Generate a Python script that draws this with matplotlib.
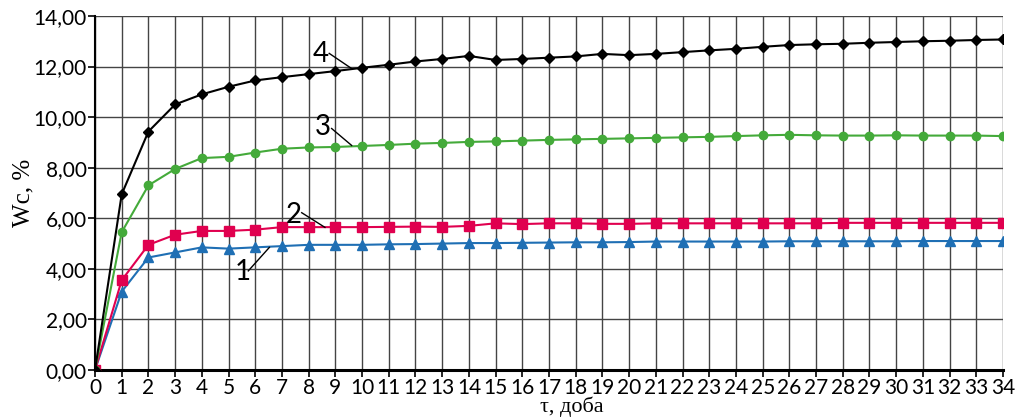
import numpy as np
import matplotlib.pyplot as plt
from matplotlib.ticker import FuncFormatter

# days
days = list(range(0, 35))

# curve 1 (blue, triangles)
wc1 = [0, 3.1, 4.45, 4.65, 4.85, 4.8, 4.85, 4.9, 4.95, 4.95, 4.95, 4.97, 4.98, 5.0, 5.02,
       5.02, 5.03, 5.04, 5.05, 5.05, 5.06, 5.08, 5.08, 5.08, 5.08, 5.08, 5.09, 5.09, 5.09,
       5.09, 5.09, 5.1, 5.1, 5.1, 5.1]
# curve 2 (red, squares)
wc2 = [0, 3.55, 4.95, 5.35, 5.5, 5.5, 5.55, 5.65, 5.65, 5.65, 5.65, 5.66, 5.67, 5.66, 5.7,
       5.8, 5.77, 5.8, 5.8, 5.78, 5.78, 5.8, 5.8, 5.8, 5.8, 5.8, 5.8, 5.8, 5.82,
       5.82, 5.82, 5.82, 5.82, 5.82, 5.82]
# curve 3 (green, circles)
wc3 = [0, 5.45, 7.3, 7.95, 8.38, 8.43, 8.6, 8.75, 8.8, 8.82, 8.86, 8.9, 8.95, 8.98, 9.02,
       9.04, 9.07, 9.1, 9.12, 9.14, 9.16, 9.18, 9.2, 9.22, 9.25, 9.28, 9.3, 9.28, 9.27,
       9.27, 9.28, 9.27, 9.27, 9.27, 9.25]
# curve 4 (black, diamonds)
wc4 = [0, 6.95, 9.43, 10.5, 10.9, 11.2, 11.45, 11.58, 11.7, 11.82, 11.95, 12.07, 12.2, 12.3, 12.42,
       12.26, 12.3, 12.35, 12.4, 12.5, 12.45, 12.5, 12.57, 12.64, 12.7, 12.78, 12.85, 12.88, 12.9,
       12.94, 12.97, 13.0, 13.02, 13.05, 13.07]

# curve numbers: label, text x, text y, leader start, leader end
curve_labels = ['1', '2', '3', '4']
label_pos = [(5.54, 3.87), (7.43, 6.13), (8.54, 9.6), (8.44, 12.5)]
leader_from = [(5.74, 3.92), (7.74, 6.22), (8.86, 9.55), (8.77, 12.52)]
leader_to = [(6.53, 4.85), (8.61, 5.64), (9.61, 8.88), (9.61, 11.92)]

numfont = ['Lato', 'DejaVu Sans']

fig = plt.figure(figsize=(10.15, 4.2), dpi=100)
ax = fig.add_axes([0.0936, 0.119, 0.8946, 0.843])

ax.plot(days, wc1, color='#1f6fb4', marker='^', markersize=6.5, lw=1.5, zorder=3)
ax.plot(days, wc2, color='#e0004f', marker='s', markersize=6.5, lw=1.5, zorder=3)
ax.plot(days, wc3, color='#44aa3a', marker='o', markersize=6, lw=1.5, zorder=3)
ax.plot(days, wc4, color='black', marker='D', markersize=5.5, lw=1.5, zorder=3)

ax.set_xlim(0, 34)
ax.set_ylim(0, 14)
ax.set_xticks(range(0, 35))
ax.set_yticks(np.arange(0, 15, 2))
ax.yaxis.set_major_formatter(FuncFormatter(lambda v, p: f'{v:.2f}'.replace('.', ',')))
ax.grid(True, color='#444444', lw=1.0)
ax.set_axisbelow(True)

for s in ['top', 'right']:
    ax.spines[s].set_visible(False)
ax.spines['left'].set_linewidth(1.5)
ax.spines['bottom'].set_linewidth(2.2)
ax.tick_params(direction='out', length=5, width=1.2, labelsize=15, pad=1)
for lab in ax.get_xticklabels() + ax.get_yticklabels():
    lab.set_family(numfont)

ax.set_xlabel('τ, доба', family='Liberation Serif', fontsize=16)
ax.xaxis.set_label_coords(0.525, -0.075)
ax.set_ylabel('Wc, %', family='Liberation Serif', fontsize=18)
ax.yaxis.set_label_coords(-0.067, 0.5)

for txt, (tx, ty), (x0, y0), (x1, y1) in zip(curve_labels, label_pos, leader_from, leader_to):
    ax.text(tx, ty, txt, fontsize=20, family=numfont, ha='center', va='center', zorder=4)
    ax.plot([x0, x1], [y0, y1], color='black', lw=1.0, zorder=4)

fig.savefig('out.png', dpi=100)
